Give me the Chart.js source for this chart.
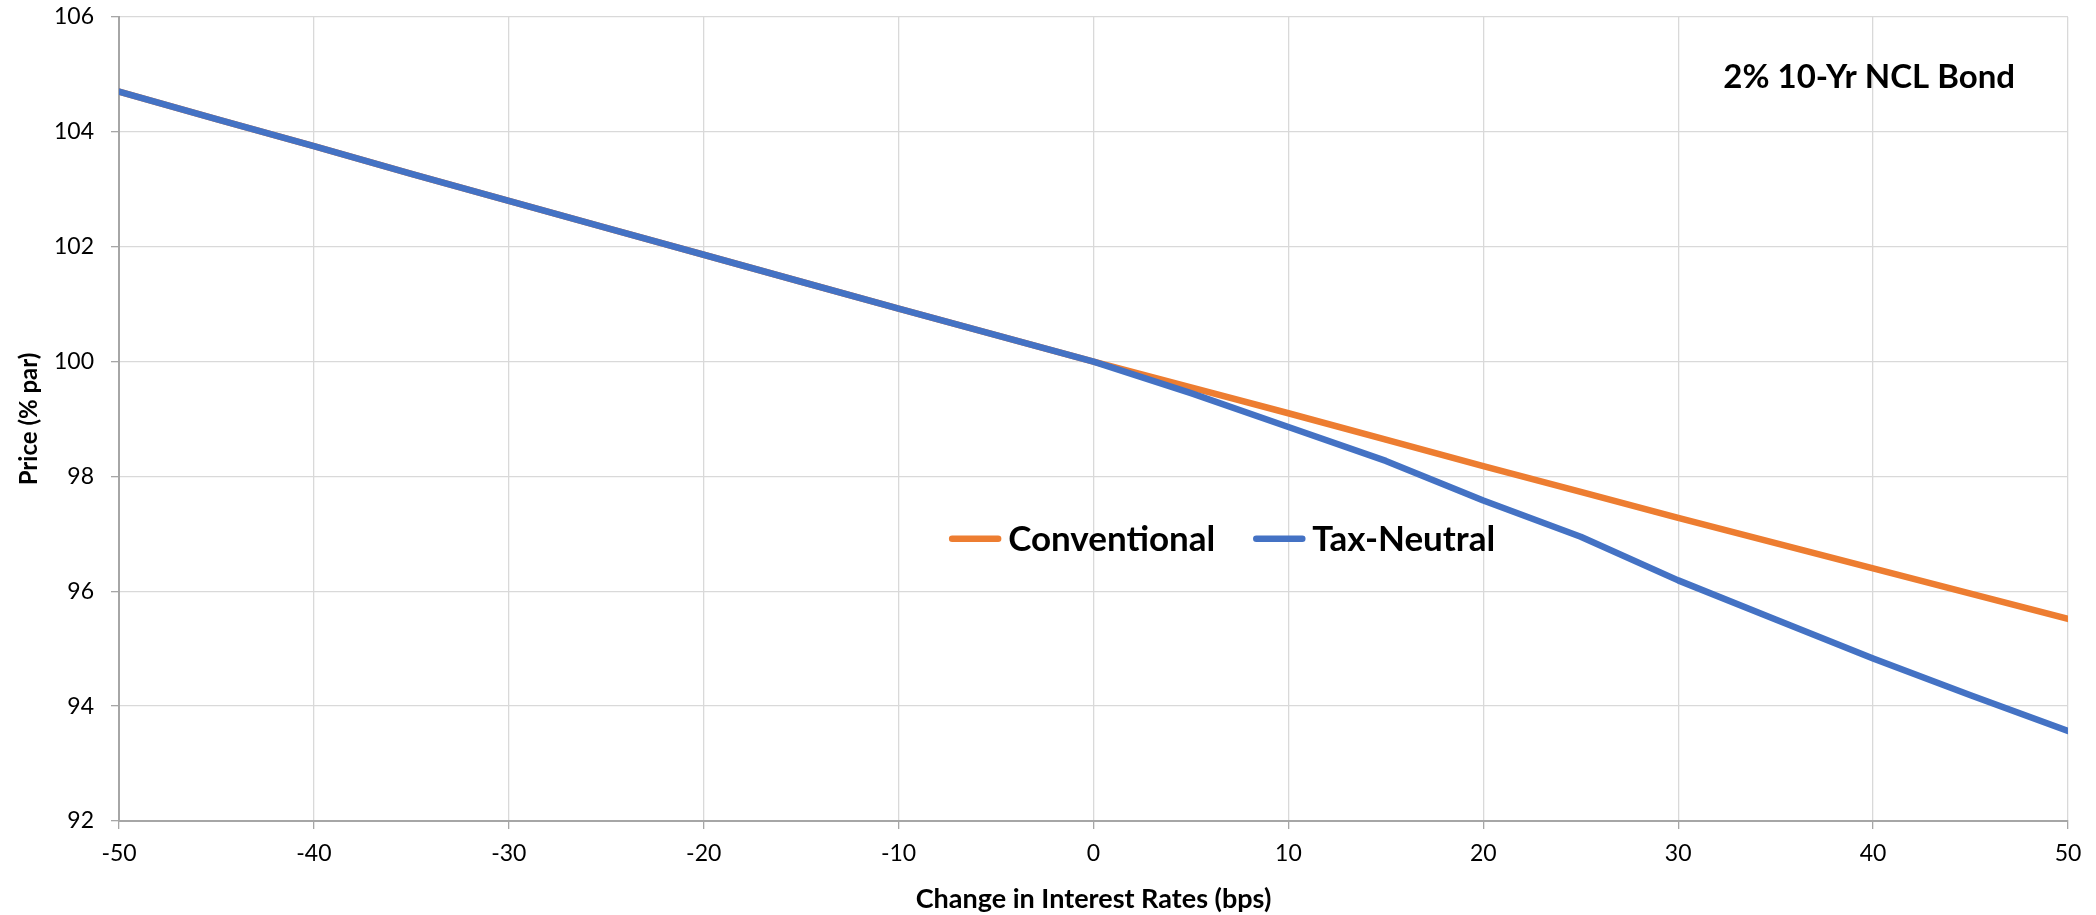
<!DOCTYPE html>
<html>
<head>
<meta charset="utf-8">
<script src="https://cdn.jsdelivr.net/npm/chart.js"></script>
<style>
  body { margin: 0; background: #fff; }
  #wrap { width: 2096px; height: 915px; }
</style>
</head>
<body>
<div id="wrap"><canvas id="myChart" width="2096" height="915"></canvas></div>
<script>
  // change in rates (bps) vs price (% par), every 5 bps
  const bps = [-50, -45, -40, -35, -30, -25, -20, -15, -10, -5, 0, 5, 10, 15, 20, 25, 30, 35, 40, 45, 50];
  const conventional = [104.70, 104.22, 103.75, 103.27, 102.80, 102.33, 101.86, 101.39, 100.92, 100.46, 100.00,
                        99.55, 99.10, 98.64, 98.18, 97.73, 97.28, 96.84, 96.40, 95.96, 95.52];
  const taxNeutral = [104.70, 104.22, 103.75, 103.27, 102.80, 102.33, 101.86, 101.39, 100.92, 100.46, 100.00,
                      99.45, 98.86, 98.27, 97.58, 96.95, 96.19, 95.51, 94.83, 94.19, 93.57];
  const seriesNames = ['Conventional', 'Tax-Neutral'];
  const seriesColors = ['#ED7D31', '#4472C4'];
  const chartTitle = '2% 10-Yr NCL Bond';
  const xTitle = 'Change in Interest Rates (bps)';
  const yTitle = 'Price (% par)';
  const xRange = [-50, 50, 10];
  const yRange = [92, 106, 2];
</script>
<script>//CHART
  const ctx = document.getElementById('myChart');
  const font = 'Lato';

  function points(values) {
    return bps.map((b, i) => ({x: b, y: values[i]}));
  }

  // title and legend sit inside the plot, like the original
  const overlay = {
    id: 'overlay',
    afterDraw(chart) {
      const c = chart.ctx;
      const a = chart.chartArea;
      c.save();
      c.fillStyle = '#000';
      c.textBaseline = 'middle';
      c.textAlign = 'center';
      c.font = 'bold 33px ' + font;
      c.fillText(chartTitle, a.left + a.width * 0.898, a.top + a.height * 0.075);

      c.font = 'bold 35px ' + font;
      const lineLen = 52, gap = 7, between = 38;
      const items = chart.data.datasets.map(d => ({label: d.label, color: d.borderColor, w: c.measureText(d.label).width}));
      const total = items.reduce((s, it) => s + lineLen + gap + it.w, 0) + between * (items.length - 1);
      let x = a.left + a.width * 0.566 - total / 2;
      const y = a.top + a.height * 0.649;
      c.textAlign = 'left';
      c.lineCap = 'round';
      c.lineWidth = 6.5;
      items.forEach(it => {
        c.strokeStyle = it.color;
        c.beginPath();
        c.moveTo(x + 3, y);
        c.lineTo(x + lineLen - 3, y);
        c.stroke();
        x += lineLen + gap;
        c.fillText(it.label, x, y + 1);
        x += it.w + between;
      });
      c.restore();
    }
  };

  function axis(range, title, titleSize, titlePad, tickPad, fit) {
    return {
      type: 'linear',
      min: range[0],
      max: range[1],
      ticks: {stepSize: range[2], color: '#000', padding: tickPad, font: {family: font, size: 23}},
      grid: {color: '#D9D9D9', lineWidth: 1.3, tickLength: 8, tickColor: '#A6A6A6'},
      border: {color: '#A6A6A6', width: 2},
      title: {display: true, text: title, color: '#000', padding: titlePad, font: {family: font, size: titleSize, weight: 'bold'}},
      afterFit: fit
    };
  }

  new Chart(ctx, {
    type: 'line',
    data: {
      datasets: [
        {label: seriesNames[0], data: points(conventional), borderColor: seriesColors[0], order: 2},
        {label: seriesNames[1], data: points(taxNeutral), borderColor: seriesColors[1], order: 1}
      ].map(d => Object.assign(d, {borderWidth: 6.5, pointRadius: 0, tension: 0, fill: false,
                                   borderCapStyle: 'round', borderJoinStyle: 'round'}))
    },
    options: {
      responsive: false,
      animation: false,
      layout: {padding: {top: 17, right: 28, left: 0, bottom: 0}},
      plugins: {legend: {display: false}, tooltip: {enabled: false}},
      scales: {
        x: axis(xRange, xTitle, 27, {top: 0, bottom: 0}, 11, s => { s.height = 94; s.paddingLeft = 0; s.paddingRight = 0; }),
        y: axis(yRange, yTitle, 24, {top: 15, bottom: 0}, 17, s => { s.width = 119; s.paddingTop = 0; s.paddingBottom = 0; })
      }
    },
    plugins: [overlay]
  });
</script>
</body>
</html>
